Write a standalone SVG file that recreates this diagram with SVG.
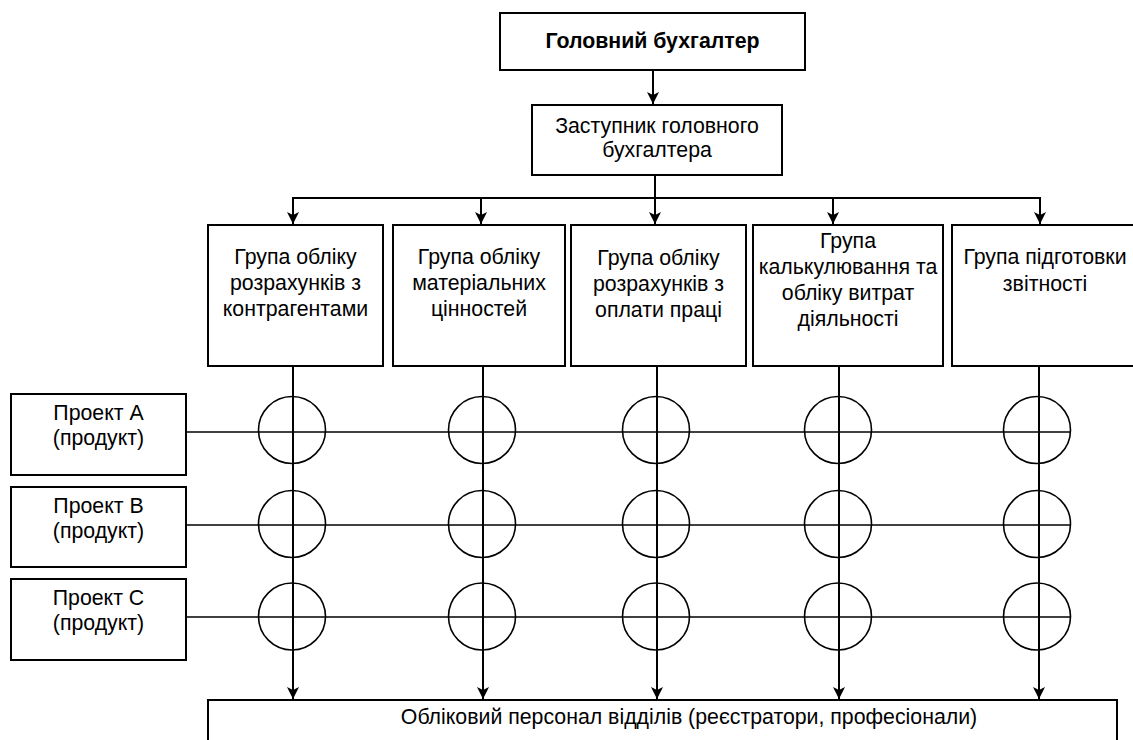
<svg xmlns="http://www.w3.org/2000/svg" width="1133" height="740" viewBox="0 0 1133 740">
<style>
.box{fill:#fff;stroke:#000;stroke-width:2}
.t{font-family:"Liberation Sans",Arial,sans-serif;font-size:21.3px;fill:#000;text-anchor:middle}
.b{font-weight:bold}
.ln{stroke:#000;stroke-width:2;fill:none}
.row{stroke:#000;stroke-width:1.6;fill:none}
.cir{stroke:#000;stroke-width:1.6;fill:none}
</style>
<defs>
<marker id="arr" markerWidth="14" markerHeight="14" refX="12" refY="6" orient="auto" markerUnits="userSpaceOnUse">
<path d="M0,0 L12,6 L0,12 L3,6 Z" fill="#000"/>
</marker>
</defs>
<rect width="1133" height="740" fill="#fff"/>

<g id="connectors">
<line class="ln" x1="653" y1="70" x2="653" y2="104" marker-end="url(#arr)"/>
<line class="ln" x1="655" y1="175" x2="655" y2="224" marker-end="url(#arr)"/>
<line class="ln" x1="293" y1="198" x2="1040" y2="198"/>
<line class="ln" x1="293" y1="197" x2="293" y2="224" marker-end="url(#arr)"/>
<line class="ln" x1="481" y1="198" x2="481" y2="224" marker-end="url(#arr)"/>
<line class="ln" x1="833" y1="198" x2="833" y2="224" marker-end="url(#arr)"/>
<line class="ln" x1="1040" y1="197" x2="1040" y2="224" marker-end="url(#arr)"/>
<line class="row" x1="186" y1="432" x2="1070" y2="432"/>
<line class="row" x1="186" y1="525" x2="1070" y2="525"/>
<line class="row" x1="186" y1="617" x2="1070" y2="617"/>
<line class="ln" x1="293" y1="366" x2="293" y2="699" marker-end="url(#arr)"/>
<line class="ln" x1="483" y1="366" x2="483" y2="699" marker-end="url(#arr)"/>
<line class="ln" x1="657" y1="366" x2="657" y2="699" marker-end="url(#arr)"/>
<line class="ln" x1="839" y1="366" x2="839" y2="699" marker-end="url(#arr)"/>
<line class="ln" x1="1039" y1="366" x2="1039" y2="699" marker-end="url(#arr)"/>
</g>

<g id="intersections">
<circle class="cir" cx="292" cy="430" r="33.5"/>
<circle class="cir" cx="482" cy="430" r="33.5"/>
<circle class="cir" cx="656" cy="430" r="33.5"/>
<circle class="cir" cx="838" cy="430" r="33.5"/>
<circle class="cir" cx="1037" cy="430" r="33.5"/>
<circle class="cir" cx="292" cy="524" r="33.5"/>
<circle class="cir" cx="482" cy="524" r="33.5"/>
<circle class="cir" cx="656" cy="524" r="33.5"/>
<circle class="cir" cx="838" cy="524" r="33.5"/>
<circle class="cir" cx="1037" cy="524" r="33.5"/>
<circle class="cir" cx="292" cy="616.5" r="33.5"/>
<circle class="cir" cx="482" cy="616.5" r="33.5"/>
<circle class="cir" cx="656" cy="616.5" r="33.5"/>
<circle class="cir" cx="838" cy="616.5" r="33.5"/>
<circle class="cir" cx="1037" cy="616.5" r="33.5"/>
</g>

<g id="chief">
<rect class="box" x="500" y="13" width="305" height="57"/>
<text class="t b" x="652.5" y="48">Головний бухгалтер</text>
</g>
<g id="deputy">
<rect class="box" x="532" y="105" width="250" height="70"/>
<text class="t" x="657" y="133">Заступник головного</text>
<text class="t" x="657" y="157">бухгалтера</text>
</g>

<g id="group1">
<rect class="box" x="208" y="225" width="175" height="141"/>
<text class="t" x="295.5" y="264">Група обліку</text>
<text class="t" x="295.5" y="290">розрахунків з</text>
<text class="t" x="295.5" y="316">контрагентами</text>
</g>
<g id="group2">
<rect class="box" x="393" y="225" width="172" height="141"/>
<text class="t" x="479" y="264">Група обліку</text>
<text class="t" x="479" y="290">матеріальних</text>
<text class="t" x="479" y="316">цінностей</text>
</g>
<g id="group3">
<rect class="box" x="571" y="225" width="175" height="141"/>
<text class="t" x="658.5" y="265">Група обліку</text>
<text class="t" x="658.5" y="291">розрахунків з</text>
<text class="t" x="658.5" y="317">оплати праці</text>
</g>
<g id="group4">
<rect class="box" x="753" y="225" width="190" height="141"/>
<text class="t" x="848" y="248">Група</text>
<text class="t" x="848" y="274">калькулювання та</text>
<text class="t" x="848" y="300">обліку витрат</text>
<text class="t" x="848" y="326">діяльності</text>
</g>
<g id="group5">
<rect class="box" x="952" y="225" width="186" height="141"/>
<text class="t" x="1045" y="264">Група підготовки</text>
<text class="t" x="1045" y="291">звітності</text>
</g>

<g id="projectA">
<rect class="box" x="11" y="394" width="175" height="81"/>
<text class="t" x="98.5" y="420">Проект А</text>
<text class="t" x="98.5" y="445">(продукт)</text>
</g>
<g id="projectB">
<rect class="box" x="11" y="487" width="175" height="80"/>
<text class="t" x="98.5" y="513">Проект В</text>
<text class="t" x="98.5" y="538">(продукт)</text>
</g>
<g id="projectC">
<rect class="box" x="11" y="579" width="175" height="81"/>
<text class="t" x="98.5" y="605">Проект С</text>
<text class="t" x="98.5" y="630">(продукт)</text>
</g>

<g id="staff">
<rect class="box" x="208" y="700" width="909" height="60"/>
<text class="t" x="689" y="724">Обліковий персонал відділів (реєстратори, професіонали)</text>
</g>
</svg>
